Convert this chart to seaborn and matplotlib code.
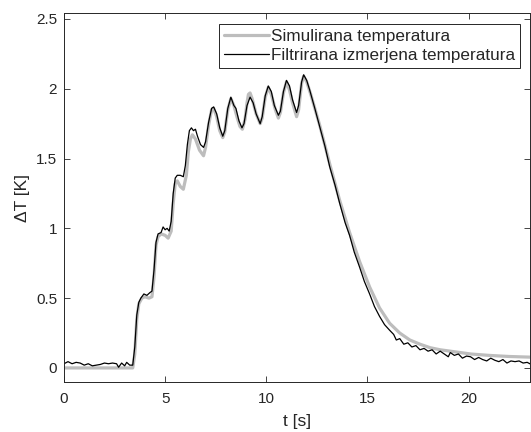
import pandas as pd
import matplotlib
matplotlib.use('Agg')
import matplotlib.pyplot as plt
import seaborn as sns

# izmerjena (filtrirana) temperatura
t_meas = [0.0, 0.2, 0.4, 0.6, 0.8, 1.0, 1.2, 1.4, 1.6, 1.8, 2.0, 2.2, 2.4, 2.6, 2.7,
          2.85, 3.0, 3.1, 3.25, 3.4, 3.5, 3.6, 3.7, 3.8, 3.95, 4.1, 4.25, 4.35, 4.45,
          4.55, 4.65, 4.8, 4.9, 5.0, 5.1, 5.2, 5.3, 5.4, 5.5, 5.6, 5.75, 5.9, 6.0, 6.1,
          6.2, 6.3, 6.4, 6.5, 6.6, 6.75, 6.9, 7.0, 7.15, 7.3, 7.4, 7.55, 7.7, 7.85,
          7.95, 8.1, 8.25, 8.4, 8.5, 8.65, 8.8, 8.9, 9.05, 9.2, 9.35, 9.5, 9.7, 9.8,
          9.95, 10.1, 10.25, 10.4, 10.6, 10.7, 10.85, 11.0, 11.15, 11.3, 11.5, 11.6,
          11.75, 11.85, 12.0, 12.15, 12.4, 12.64, 12.9, 13.14, 13.4, 13.63, 13.9,
          14.12, 14.35, 14.62, 14.85, 15.11, 15.35, 15.6, 15.85, 16.1, 16.3, 16.43,
          16.6, 16.8, 17.0, 17.2, 17.4, 17.6, 17.8, 18.0, 18.2, 18.4, 18.6, 18.8,
          19.0, 19.1, 19.3, 19.5, 19.7, 19.9, 20.1, 20.3, 20.5, 20.7, 20.9, 21.1,
          21.3, 21.5, 21.7, 21.9, 22.1, 22.3, 22.5, 22.7, 22.9, 23.1]
dT_meas = [0.03, 0.045, 0.03, 0.04, 0.035, 0.02, 0.03, 0.015, 0.02, 0.025, 0.035, 0.03,
           0.035, 0.03, 0.005, 0.035, 0.015, 0.04, 0.02, 0.02, 0.15, 0.38, 0.47, 0.50,
           0.53, 0.52, 0.54, 0.55, 0.70, 0.90, 0.96, 0.97, 1.01, 0.99, 1.0, 0.98, 1.05,
           1.25, 1.36, 1.38, 1.38, 1.37, 1.45, 1.6, 1.70, 1.72, 1.70, 1.71, 1.66, 1.60,
           1.58, 1.62, 1.76, 1.86, 1.87, 1.82, 1.72, 1.66, 1.70, 1.86, 1.94, 1.88,
           1.86, 1.77, 1.72, 1.75, 1.88, 1.94, 1.90, 1.82, 1.75, 1.80, 1.95, 2.02,
           1.98, 1.88, 1.81, 1.84, 1.98, 2.06, 2.02, 1.92, 1.83, 1.88, 2.05, 2.10,
           2.06, 1.99, 1.86, 1.73, 1.59, 1.44, 1.31, 1.18, 1.04, 0.95, 0.83, 0.72,
           0.62, 0.53, 0.44, 0.37, 0.31, 0.27, 0.24, 0.20, 0.21, 0.17, 0.18, 0.15,
           0.16, 0.13, 0.14, 0.12, 0.13, 0.10, 0.12, 0.10, 0.08, 0.11, 0.09, 0.10,
           0.07, 0.085, 0.08, 0.06, 0.075, 0.06, 0.05, 0.07, 0.055, 0.045, 0.06, 0.035,
           0.05, 0.045, 0.05, 0.035, 0.04, 0.025]

# simulirana temperatura
t_sim = [0.0, 3.4, 3.5, 3.6, 3.7, 3.85, 4.0, 4.2, 4.35, 4.45, 4.55, 4.65, 4.8, 5.0,
         5.15, 5.3, 5.4, 5.5, 5.6, 5.75, 5.9, 6.05, 6.15, 6.25, 6.35, 6.5, 6.7, 6.9,
         7.0, 7.15, 7.3, 7.4, 7.55, 7.7, 7.85, 7.95, 8.1, 8.25, 8.4, 8.55, 8.7, 8.82,
         8.95, 9.05, 9.12, 9.2, 9.3, 9.5, 9.7, 9.8, 9.95, 10.1, 10.25, 10.45, 10.6, 10.7,
         10.85, 11.0, 11.15, 11.3, 11.5, 11.6, 11.75, 11.85, 12.0, 12.2, 12.64, 13.14,
         13.63, 14.12, 14.62, 15.11, 15.6, 16.1, 16.6, 17.1, 17.6, 18.1, 18.6, 19.1,
         19.6, 20.1, 21.0, 22.0, 23.1]
dT_sim = [0.0, 0.0, 0.1, 0.35, 0.46, 0.50, 0.51, 0.50, 0.51, 0.65, 0.88, 0.94, 0.96,
          0.95, 0.93, 0.98, 1.18, 1.32, 1.34, 1.30, 1.28, 1.38, 1.55, 1.64, 1.67, 1.64,
          1.56, 1.52, 1.58, 1.74, 1.85, 1.86, 1.80, 1.70, 1.65, 1.69, 1.85, 1.93, 1.88,
          1.80, 1.73, 1.71, 1.78, 1.90, 1.96, 1.97, 1.93, 1.82, 1.75, 1.79, 1.94, 2.01,
          1.96, 1.85, 1.79, 1.83, 1.97, 2.05, 1.99, 1.90, 1.80, 1.85, 2.04, 2.09, 2.05,
          1.96, 1.74, 1.46, 1.20, 0.97, 0.76, 0.58, 0.43, 0.32, 0.25, 0.20, 0.17, 0.145,
          0.13, 0.12, 0.11, 0.10, 0.09, 0.082, 0.077]

x_ticks = [0, 5, 10, 15, 20]
y_ticks = [0, 0.5, 1, 1.5, 2, 2.5]
y_ticklabels = ['0', '0.5', '1', '1.5', '2', '2.5']

sns.set_style('white')
plt.rcParams['font.family'] = ['Liberation Sans', 'DejaVu Sans']

dark = '#262626'
fig = plt.figure(figsize=(5.31, 4.32), dpi=100)
ax = fig.add_axes([0.1205, 0.116, 0.878, 0.853])

sns.lineplot(x=t_sim, y=dT_sim, ax=ax, color='#bdbdbd', linewidth=2.3,
             label='Simulirana temperatura')
sns.lineplot(x=t_meas, y=dT_meas, ax=ax, color='black', linewidth=0.9,
             label='Filtrirana izmerjena temperatura')

ax.set_xlim(0, 23.05)
ax.set_ylim(-0.1, 2.54)
ax.set_xticks(x_ticks)
ax.set_xticklabels([str(v) for v in x_ticks])
ax.set_yticks(y_ticks)
ax.set_yticklabels(y_ticklabels)
ax.tick_params(direction='in', length=4, width=0.6, colors=dark, labelsize=11,
               top=True, right=True, bottom=True, left=True)
ax.tick_params(axis='x', pad=7)
ax.tick_params(axis='y', pad=5)
for s in ax.spines.values():
    s.set_visible(True)
    s.set_color(dark)
    s.set_linewidth(0.7)

ax.set_xlabel('t [s]', fontsize=12.5, color=dark, labelpad=6)
ax.set_ylabel('ΔT [K]', fontsize=12.5, color=dark, labelpad=4)

leg = ax.legend(loc='upper right', fontsize=12.3, frameon=True, fancybox=False,
                framealpha=1, edgecolor=dark, borderpad=0.3, handlelength=2.65,
                handletextpad=0.1, labelspacing=0.25, borderaxespad=0.6)
leg.get_frame().set_linewidth(0.7)

fig.savefig('out.png', dpi=100)
